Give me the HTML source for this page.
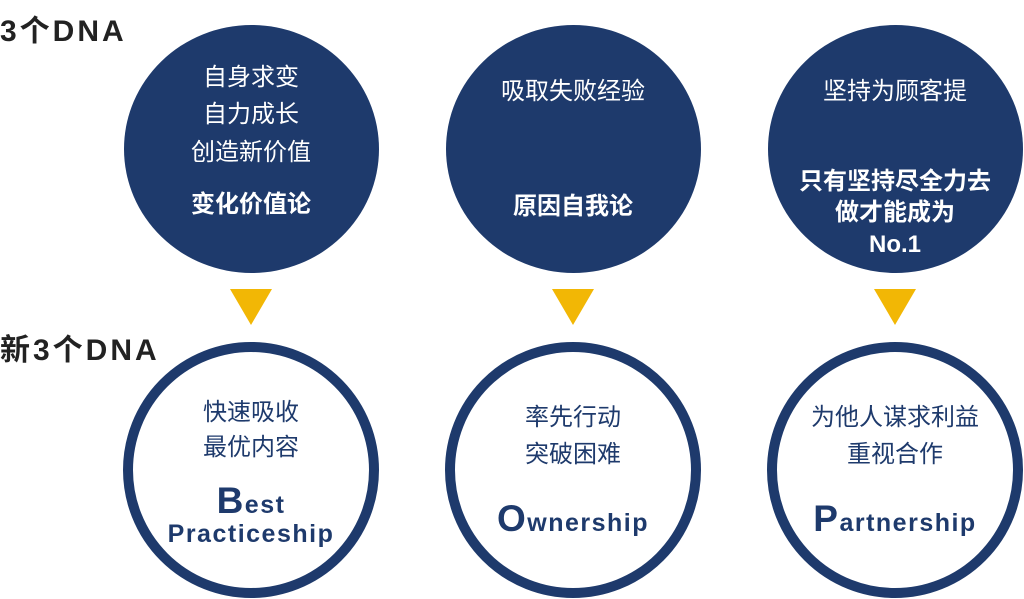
<!DOCTYPE html>
<html><head><meta charset="utf-8"><style>
body{margin:0;width:1024px;height:599px;background:#fff;overflow:hidden;position:relative;font-family:"Liberation Sans","Noto Sans CJK SC",sans-serif;}
.t{position:absolute;left:0;font-weight:bold;font-size:30px;color:#222;letter-spacing:3px;}
.c{position:absolute;border-radius:50%;}
.top{background:#1e3a6c;width:255px;height:248px;top:25px;}
.bot{border:10px solid #1e3a6c;width:236px;height:236px;top:342px;background:#fff;}
.tri{position:absolute;top:289px;width:0;height:0;border-left:21px solid transparent;border-right:21px solid transparent;border-top:36px solid #f2b705;}
.l{position:absolute;width:300px;text-align:center;font-size:24px;line-height:1;}
.w{color:#fff}.n{color:#1e3a6c}.b{font-weight:bold}
</style></head><body>
<div class="t" style="top:6px">3个DNA</div>
<div class="t" style="top:325px">新3个DNA</div>

<div class="c top" style="left:124px"></div>
<div class="c top" style="left:446px"></div>
<div class="c top" style="left:768px"></div>
<div class="tri" style="left:230px"></div>
<div class="tri" style="left:552px"></div>
<div class="tri" style="left:874px"></div>
<div class="c bot" style="left:123px"></div>
<div class="c bot" style="left:445px"></div>
<div class="c bot" style="left:767px"></div>

<div class="l w" style="left:101px;top:66px">自身求变</div>
<div class="l w" style="left:101px;top:103px">自力成长</div>
<div class="l w" style="left:101px;top:141px">创造新价值</div>
<div class="l w b" style="left:101px;top:193px">变化价值论</div>

<div class="l w" style="left:423px;top:80px">吸取失败经验</div>
<div class="l w b" style="left:423px;top:195px">原因自我论</div>

<div class="l w" style="left:745px;top:80px">坚持为顾客提</div>
<div class="l w b" style="left:745px;top:170px">只有坚持尽全力去</div>
<div class="l w b" style="left:745px;top:201px">做才能成为</div>
<div class="l w b" style="left:745px;top:233px">No.1</div>

<div class="l n" style="left:101px;top:401px">快速吸收</div>
<div class="l n" style="left:101px;top:436px">最优内容</div>
<div class="l n b" style="left:101px;top:482px;font-size:25px;letter-spacing:1.5px"><span style="font-size:37px">B</span>est</div>
<div class="l n b" style="left:101px;top:522px;font-size:25px;letter-spacing:1.5px">Practiceship</div>

<div class="l n" style="left:423px;top:406px">率先行动</div>
<div class="l n" style="left:423px;top:443px">突破困难</div>
<div class="l n b" style="left:423px;top:500px;font-size:25px;letter-spacing:1.5px"><span style="font-size:37px">O</span>wnership</div>

<div class="l n" style="left:745px;top:406px">为他人谋求利益</div>
<div class="l n" style="left:745px;top:443px">重视合作</div>
<div class="l n b" style="left:745px;top:500px;font-size:25px;letter-spacing:1.5px"><span style="font-size:37px">P</span>artnership</div>
</body></html>
